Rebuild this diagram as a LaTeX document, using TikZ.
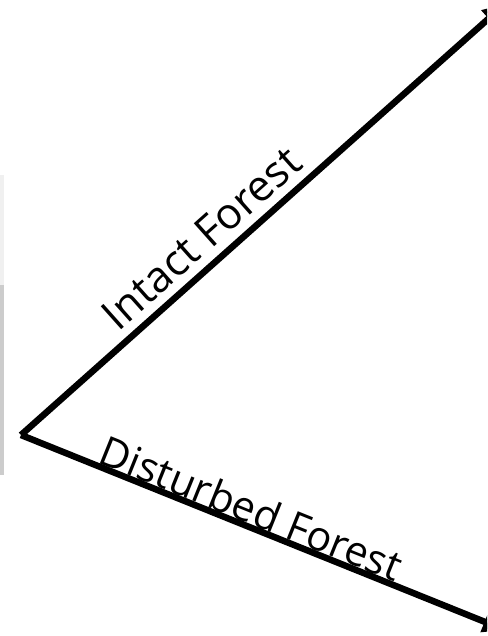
\documentclass[tikz,border=0pt]{standalone}
\usepackage{fontspec}
\setmainfont{Open Sans}
\usetikzlibrary{arrows.meta,positioning,calc}

\begin{document}
\begin{tikzpicture}[
	x=1pt, y=-1pt,
	font=\fontsize{43}{50}\selectfont,
	>=Triangle,
	branch/.style={line width=6.5pt, black,
		-{Triangle[length=22pt,width=21pt]}},
	lbl/.style={sloped, inner sep=0pt},
	strip/.style={draw=none}
]

% frame
\useasboundingbox (0,0) rectangle (487,636);
\clip (0,0) rectangle (487,636);

% faint strip at the left edge
\fill[strip, black!6]  (0,175) rectangle (4,285);
\fill[strip, black!20] (0,285) rectangle (4,475);

% vertex and arrow tips
\coordinate (root)    at (21,435);
\coordinate (intact)  at (505,4);
\coordinate (disturb) at (505,630);

\draw[branch] (root) -- (intact)
	node[lbl, pos=0.41, above=12pt, anchor=base] (tIntact) {Intact Forest};
\draw[branch] (root) -- (disturb)
	node[lbl, pos=0.462, anchor=base, yshift=3pt,
		font=\fontsize{41.3}{48}\selectfont] (tDisturb) {Disturbed Forest};

\end{tikzpicture}
\end{document}
